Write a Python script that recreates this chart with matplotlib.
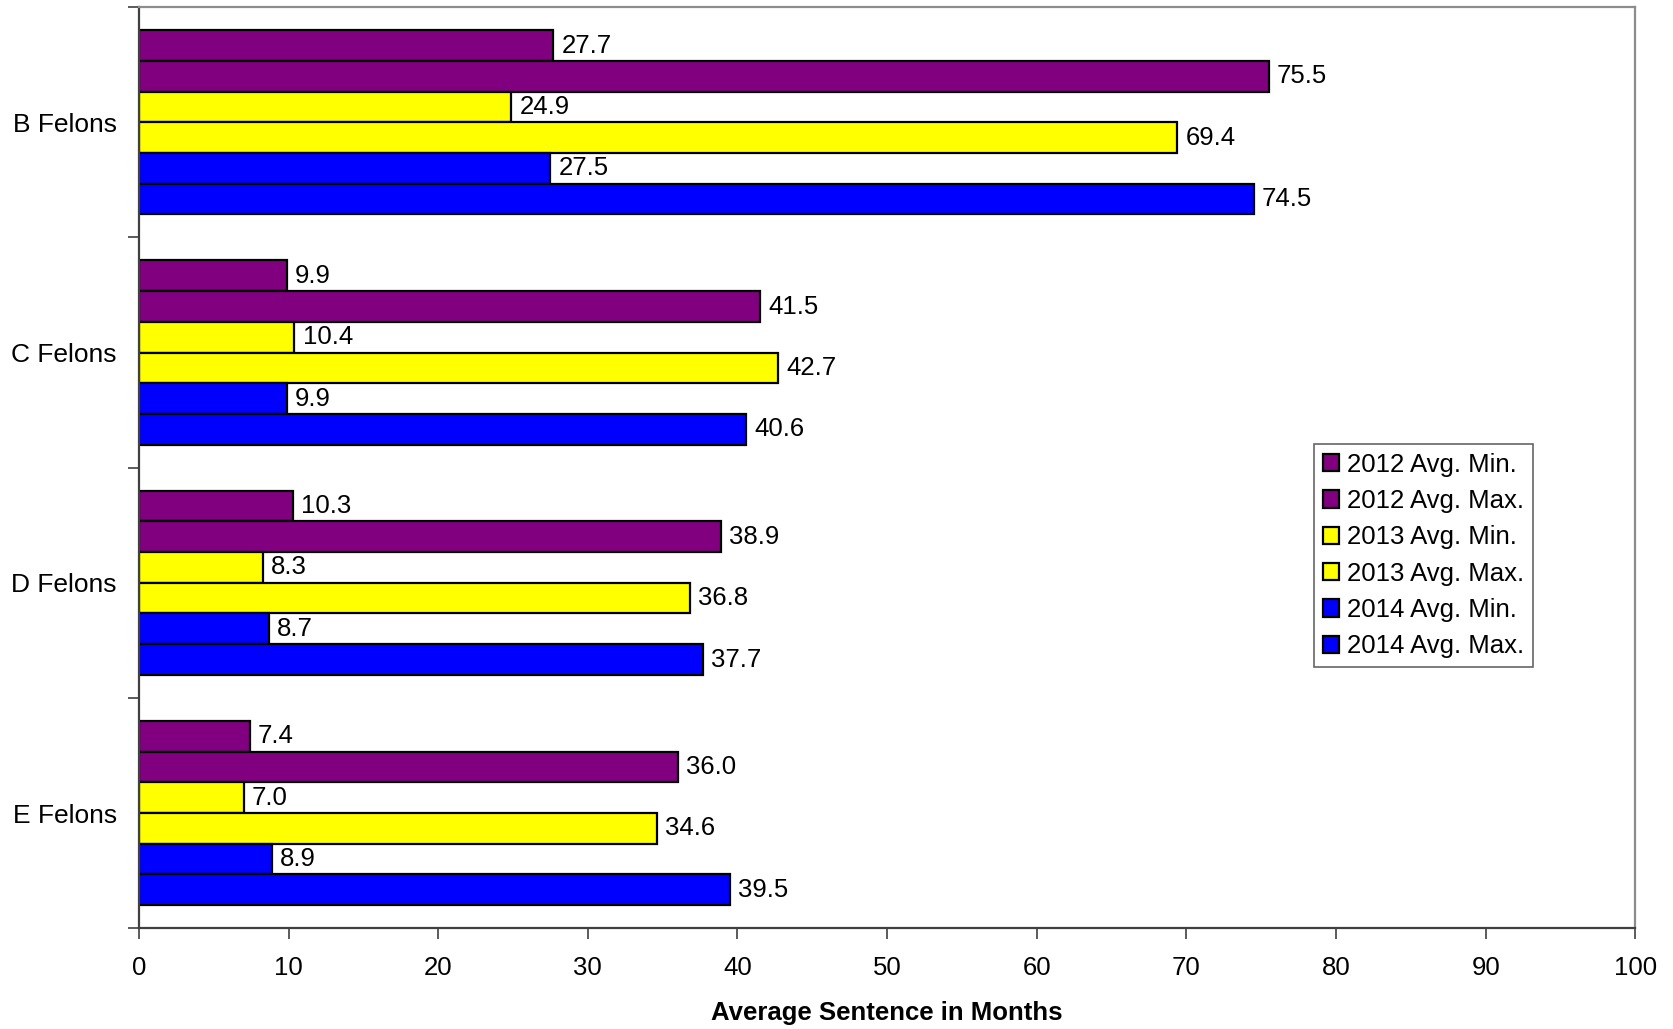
import matplotlib
matplotlib.use("Agg")
import matplotlib.pyplot as plt
from matplotlib.patches import Patch
import numpy as np

plt.rcParams['font.family'] = ['Liberation Sans', 'DejaVu Sans']

categories = ["B Felons", "C Felons", "D Felons", "E Felons"]
series_names = ["2012 Avg. Min.", "2012 Avg. Max.", "2013 Avg. Min.",
                "2013 Avg. Max.", "2014 Avg. Min.", "2014 Avg. Max."]
min_2012 = [27.7, 9.9, 10.3, 7.4]
max_2012 = [75.5, 41.5, 38.9, 36.0]
min_2013 = [24.9, 10.4, 8.3, 7.0]
max_2013 = [69.4, 42.7, 36.8, 34.6]
min_2014 = [27.5, 9.9, 8.7, 8.9]
max_2014 = [74.5, 40.6, 37.7, 39.5]
colors = ["#800080", "#800080", "#FFFF00", "#FFFF00", "#0000FF", "#0000FF"]
x_ticks = [0, 10, 20, 30, 40, 50, 60, 70, 80, 90, 100]

series = [min_2012, max_2012, min_2013, max_2013, min_2014, max_2014]

fig = plt.figure(figsize=(16.73, 10.29), dpi=100)
ax = fig.add_axes([0.083, 0.098, 0.8945, 0.895])

n = len(series)
group = 0.8
h = group / n
y = np.arange(len(categories))
FS = 18.5
for i, (vals, c) in enumerate(zip(series, colors)):
    pos = y - group / 2 + h * (i + 0.5)
    bars = ax.barh(pos, vals, height=h, color=c, edgecolor='black', linewidth=1.6)
    for b, v in zip(bars, vals):
        ax.text(v + 0.55, b.get_y() + b.get_height() / 2, f"{v:.1f}",
                va='center', ha='left', fontsize=FS)

ax.set_ylim(len(categories) - 0.5, -0.5)
ax.set_xlim(0, 100)
ax.set_xticks(x_ticks)
ax.set_xticklabels([str(t) for t in x_ticks], fontsize=FS)
ax.set_yticks(np.arange(len(categories) + 1) - 0.5)
ax.set_yticklabels([])
ax.set_yticks(y, minor=True)
ax.set_yticklabels(categories, minor=True, fontsize=19)
ax.tick_params(axis='y', which='minor', length=0, pad=16)
ax.tick_params(axis='y', which='major', length=8, width=1.2, color='#404040', direction='out')
ax.tick_params(axis='x', length=8, width=1.2, color='#404040', direction='out', pad=12)
ax.set_xlabel("Average Sentence in Months", fontsize=FS, fontweight='bold', labelpad=15)

for s in ['left', 'bottom']:
    ax.spines[s].set_color('#404040')
    ax.spines[s].set_linewidth(1.6)
for s in ['top', 'right']:
    ax.spines[s].set_color('#8c8c8c')
    ax.spines[s].set_linewidth(1.6)

handles = [Patch(facecolor=c, edgecolor='black', linewidth=1.6) for c in colors]
leg = ax.legend(handles, series_names, loc='upper left', bbox_to_anchor=(0.785, 0.526),
                fontsize=FS, frameon=True, fancybox=False, edgecolor='#404040',
                handlelength=0.65, handleheight=0.65, handletextpad=0.3,
                labelspacing=0.48, borderpad=0.35, borderaxespad=0)
leg.get_frame().set_linewidth(1.2)

fig.savefig("out.png", dpi=100)
